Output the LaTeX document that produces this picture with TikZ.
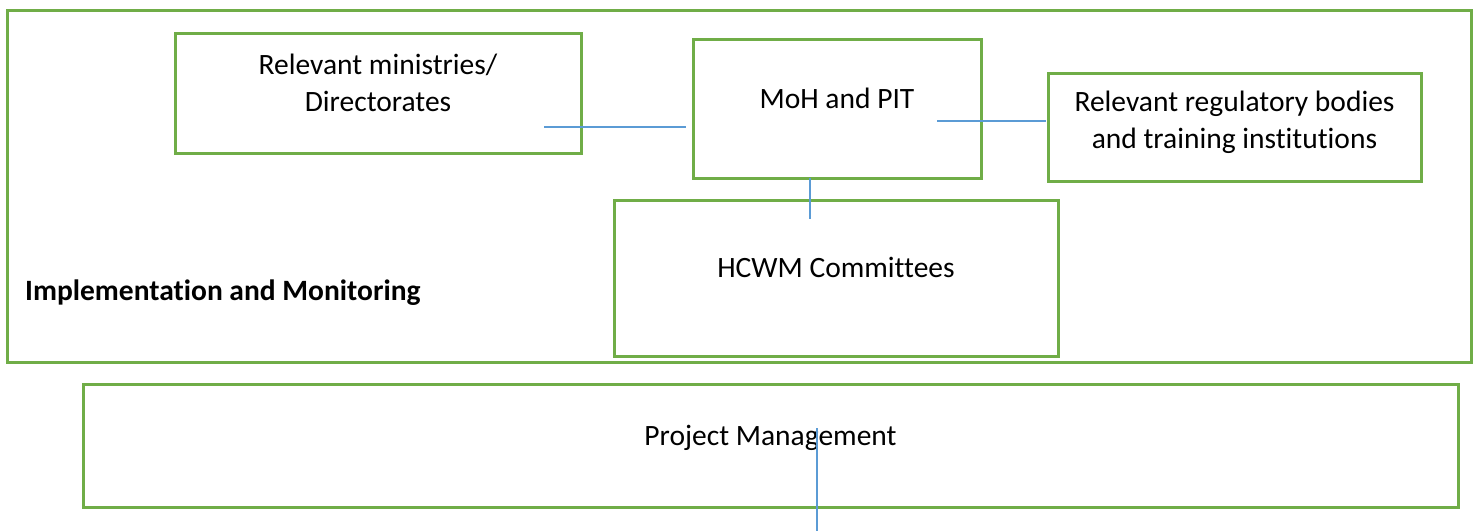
\documentclass[tikz,border=0pt]{standalone}
\usepackage{fontspec}
\setmainfont{Carlito}[Ligatures=NoCommon]
\begin{document}
\definecolor{boxgreen}{HTML}{70AD47}
\definecolor{linkblue}{HTML}{5B9BD5}
\begin{tikzpicture}[x=1pt,y=-1pt,
  box/.style={draw=boxgreen, line width=3pt, rectangle, inner sep=0pt},
  txt/.style={inner sep=0pt, align=center, font=\fontsize{29.5}{37}\selectfont, anchor=base},
  link/.style={draw=linkblue, line width=1.2pt}]
\useasboundingbox (0,0) rectangle (1476,531);
% boxes
\draw[box] (7,10) rectangle (1471,362);
\draw[box] (175,33) rectangle (581,153);
\draw[box] (693,39) rectangle (981,178);
\draw[box] (1048,73) rectangle (1421,181);
\draw[box] (614,200) rectangle (1058,356);
\draw[box] (83,384) rectangle (1458,507);
% texts (base anchor = baseline of the last line)
\node[txt] (rmt) at (378,111) {Relevant ministries/\\Directorates};
\node[txt] (moht) at (837,108) {MoH and PIT};
\node[txt] (regt) at (1234.5,148) {Relevant regulatory bodies\\and training institutions};
\node[txt] (hcwmt) at (836,277) {HCWM Committees};
\node[txt] (pmt) at (770.5,445) {Project Management};
\node[txt, anchor=base west, font=\fontsize{29.5}{37}\selectfont\bfseries] (im) at (25,300) {Implementation and Monitoring};
% connectors
\coordinate (a1) at (544,127);
\coordinate (a2) at (686,127);
\coordinate (b1) at (937,121);
\coordinate (b2) at (1046,121);
\coordinate (c1) at (810,178);
\coordinate (c2) at (810,219);
\coordinate (d1) at (817,428);
\coordinate (d2) at (817,531);
\draw[link] (a1) -- (a2);
\draw[link] (b1) -- (b2);
\draw[link] (c1) -- (c2);
\draw[link] (d1) -- (d2);
\end{tikzpicture}
\end{document}
